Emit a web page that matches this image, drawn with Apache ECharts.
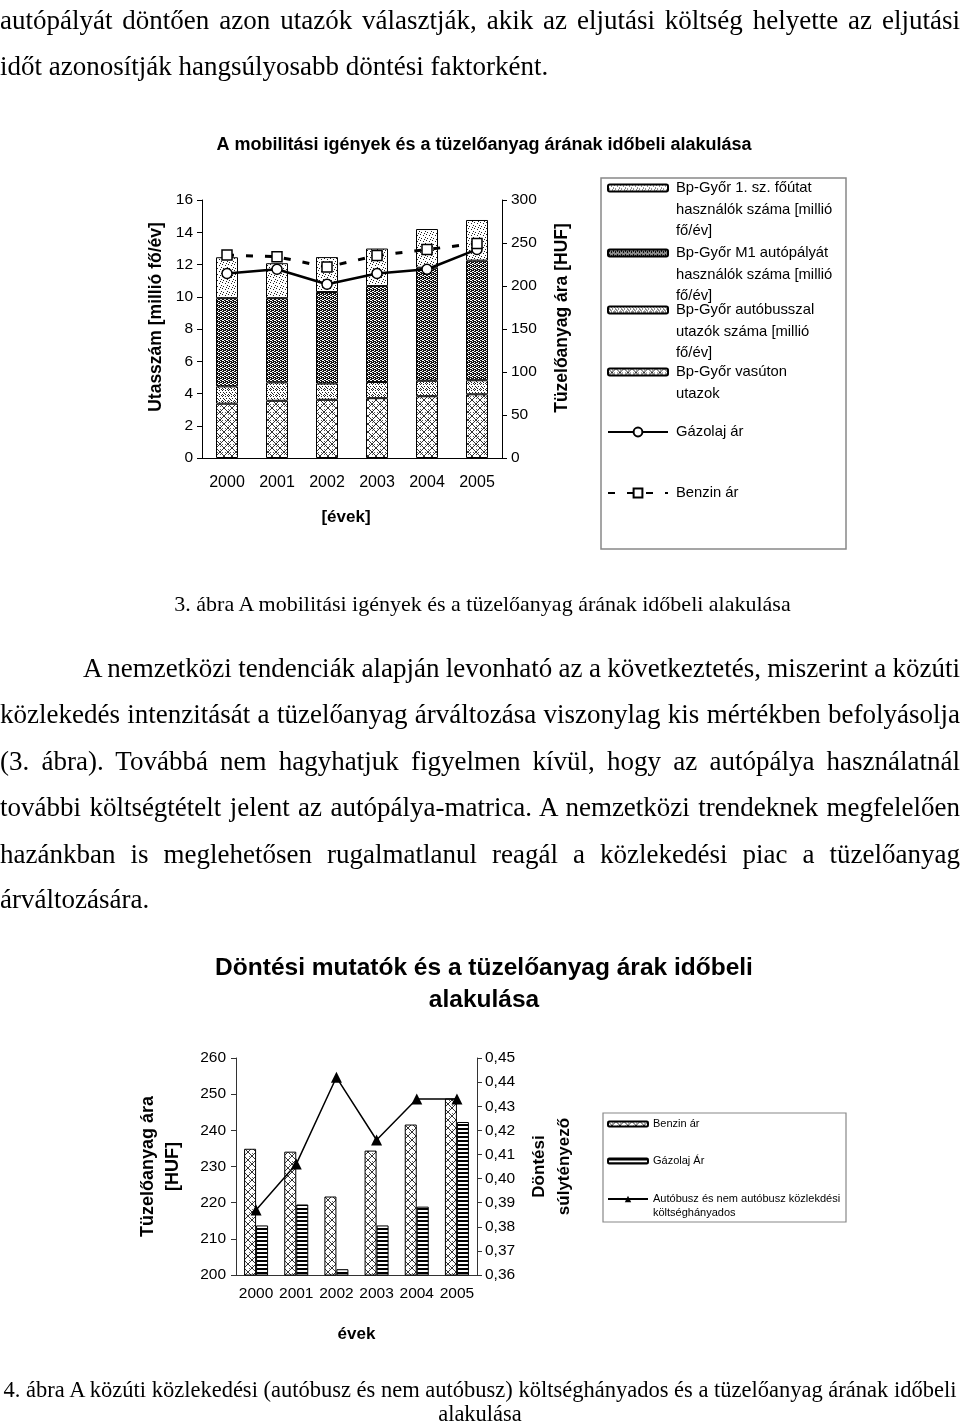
<!DOCTYPE html>
<html><head><meta charset="utf-8">
<script src="https://cdn.jsdelivr.net/npm/echarts@6/dist/echarts.min.js"></script>
<style>
html,body{margin:0;padding:0;background:#fff}
body{width:960px;height:1423px;position:relative;overflow:hidden}
#chart{position:absolute;left:0;top:0;width:960px;height:1423px}
.t{position:absolute;font-family:"Liberation Serif","Times New Roman",serif;font-size:27px;line-height:30px;color:#000;white-space:nowrap;word-spacing:-2px}
.j{left:0;width:960px;text-align:justify;text-align-last:justify}
.l{left:0;text-align:left;word-spacing:0}
.c{font-size:22px;line-height:26px;text-align:center;word-spacing:0}
.c4{font-size:22.5px;line-height:25px;text-align:center;left:0;width:960px;word-spacing:0}
</style></head>
<body>
<div id="chart"></div>
<div class="t j" style="top:5px">autópályát döntően azon utazók választják, akik az eljutási költség helyette az eljutási</div>
<div class="t l" style="top:51px">időt azonosítják hangsúlyosabb döntési faktorként.</div>
<div class="t c" style="top:591px;left:5px;width:955px">3. ábra A mobilitási igények és a tüzelőanyag árának időbeli alakulása</div>
<div class="t j" style="top:653px;padding-left:83px;width:877px">A nemzetközi tendenciák alapján levonható az a következtetés, miszerint a közúti</div>
<div class="t j" style="top:699px">közlekedés intenzitását a tüzelőanyag árváltozása viszonylag kis mértékben befolyásolja</div>
<div class="t j" style="top:746px">(3. ábra). Továbbá nem hagyhatjuk figyelmen kívül, hogy az autópálya használatnál</div>
<div class="t j" style="top:792px">további költségtételt jelent az autópálya-matrica. A nemzetközi trendeknek megfelelően</div>
<div class="t j" style="top:839px">hazánkban is meglehetősen rugalmatlanul reagál a közlekedési piac a tüzelőanyag</div>
<div class="t l" style="top:884px">árváltozására.</div>
<div class="t c4" style="top:1377px">4. ábra A közúti közlekedési (autóbusz és nem autóbusz) költséghányados és a tüzelőanyag árának időbeli</div>
<div class="t c4" style="top:1401px">alakulása</div>
<script>
// ---- data: chart 1 (3. ábra) ----
const years = ['2000','2001','2002','2003','2004','2005'];
const vasut   = [3.37, 3.55, 3.61, 3.71, 3.83, 3.95];
const busz    = [1.07, 1.14, 1.01, 1.00, 0.96, 0.87];
const m1      = [5.47, 5.22, 5.67, 5.95, 7.01, 7.42];
const foutvo  = [2.54, 2.17, 2.17, 2.33, 2.40, 2.52];
const gazolaj = [214.5, 219.5, 202, 214.5, 219.5, 242.5];
const benzin  = [236, 234, 222, 235.5, 242.5, 249.5];
// ---- data: chart 2 (4. ábra) ----
const benzin2   = [234.9, 234.1, 221.7, 234.4, 241.6, 248.8];
const gazolaj2  = [213.7, 219.5, 201.6, 213.7, 218.9, 242.3];
const hanyados  = [0.387, 0.406, 0.442, 0.416, 0.433, 0.433];
// ---- labels ----
const names1 = ['Bp-Győr 1. sz. főútat\nhasználók száma [millió\nfő/év]', 'Bp-Győr M1 autópályát\nhasználók száma [millió\nfő/év]', 'Bp-Győr autóbusszal\nutazók száma [millió\nfő/év]', 'Bp-Győr vasúton\nutazok', 'Gázolaj ár', 'Benzin ár'];
const names2 = ['Benzin ár ', 'Gázolaj Ár', 'Autóbusz és nem autóbusz közlekdési\nköltséghányados'];

function pat(w, h, draw) {
  const c = document.createElement('canvas'); c.width = w; c.height = h;
  const x = c.getContext('2d'); x.fillStyle = '#fff'; x.fillRect(0, 0, w, h); draw(x);
  return { image: c, repeat: 'repeat' };
}
function px(x, pts, col) { x.fillStyle = col || '#000'; pts.forEach(p => x.fillRect(p[0], p[1], 1, 1)); }
const pVasut = pat(8, 8, x => {
  x.strokeStyle = '#333'; x.lineWidth = 1; x.beginPath();
  x.moveTo(0, 0); x.lineTo(8, 8); x.moveTo(8, 0); x.lineTo(0, 8); x.stroke();
  px(x, [[4, 1], [1, 4], [6, 4], [4, 6]], '#555');
});
const pBusz = pat(6, 6, x => { px(x, [[0, 0], [3, 0], [1, 2], [4, 2], [2, 3], [0, 4], [3, 4], [5, 5], [1, 5]], '#222'); });
const pM1 = pat(4, 4, x => { px(x, [[0, 0], [1, 0], [2, 1], [3, 1], [0, 2], [1, 2], [2, 3], [3, 3], [1, 1], [3, 2]], '#111'); });
const pFout = pat(6, 6, x => { px(x, [[0, 0], [3, 1], [5, 3], [1, 4], [4, 5]], '#222'); });
const pBenzin2 = pat(8, 8, x => {
  x.strokeStyle = '#333'; x.lineWidth = 1; x.beginPath();
  x.moveTo(0, 0); x.lineTo(8, 8); x.moveTo(8, 0); x.lineTo(0, 8); x.stroke();
  px(x, [[4, 1], [1, 4]], '#666');
});
const pGazolaj2 = pat(4, 4, x => { x.fillStyle = '#000'; x.fillRect(0, 0, 4, 2); });

const FF = '"Liberation Sans", Arial, sans-serif';
const bStyle = p => ({ color: p, borderColor: '#000', borderWidth: 1 });

// one legend per entry; blank lines before the name keep the icon level with the first text line
function mkLegend(name, left, cy, nLines, lh, fs, iw, ih, padL) {
  const boxH = (2 * nLines - 1) * lh;
  const pre = '\n'.repeat(nLines - 1);
  return {
    data: [name], orient: 'vertical', left: left, top: cy - boxH / 2, padding: 0,
    itemWidth: iw, itemHeight: ih, itemGap: 0, selectedMode: false,
    formatter: n => pre + n,
    textStyle: { fontFamily: FF, fontSize: fs, lineHeight: lh, color: '#000', padding: [0, 0, 0, padL] }
  };
}

const axisLbl = (m, fs, extra) => Object.assign({ color: '#000', fontSize: fs, margin: m, fontFamily: FF }, extra || {});
const nameTS = (fs, lh, pad) => ({ color: '#000', fontSize: fs, fontWeight: 'bold', fontFamily: FF, lineHeight: lh, padding: pad || 0 });

const option = {
  animation: false,
  textStyle: { fontFamily: FF },
  title: [
    { text: 'A mobilitási igények és a tüzelőanyag árának időbeli alakulása', left: 484, top: 136, padding: 0, textAlign: 'center', textStyle: { fontSize: 18, fontWeight: 'bold', color: '#000', fontFamily: FF } },
    { text: 'Döntési mutatók és a tüzelőanyag árak időbeli\nalakulása', left: 484, top: 952, padding: 0, textAlign: 'center', textStyle: { fontSize: 24.5, lineHeight: 32, fontWeight: 'bold', color: '#000', fontFamily: FF } }
  ],
  grid: [
    { left: 202, top: 200, width: 300, height: 258, outerBoundsMode: 'none' },
    { left: 236, top: 1058, width: 241, height: 217, outerBoundsMode: 'none' }
  ],
  xAxis: [
    { type: 'category', gridIndex: 0, data: years, axisLine: { lineStyle: { color: '#000' } }, axisTick: { length: 5, lineStyle: { color: '#000' } },
      axisLabel: axisLbl(17, 16, { interval: 0 }), name: '[évek]', nameLocation: 'middle', nameGap: 51, nameTextStyle: nameTS(17, null, [0, 12, 0, 0]) },
    { type: 'category', gridIndex: 1, data: years, axisLine: { lineStyle: { color: '#333' } }, axisTick: { length: 5, lineStyle: { color: '#333' } },
      axisLabel: axisLbl(11, 15.5, { interval: 0 }), name: 'évek', nameLocation: 'middle', nameGap: 51, nameTextStyle: nameTS(17) }
  ],
  yAxis: [
    { type: 'value', gridIndex: 0, position: 'left', min: 0, max: 16, interval: 2, splitLine: { show: false },
      axisLine: { show: true, lineStyle: { color: '#000' } }, axisTick: { show: true, length: 5, lineStyle: { color: '#000' } },
      axisLabel: axisLbl(9, 15.5), name: 'Utasszám [millió fő/év]', nameLocation: 'middle', nameRotate: 90, nameGap: 37, nameTextStyle: nameTS(17.5, null, [0, 0, 0, 24]) },
    { type: 'value', gridIndex: 0, position: 'right', min: 0, max: 300, interval: 50, splitLine: { show: false },
      axisLine: { show: true, lineStyle: { color: '#000' } }, axisTick: { show: true, length: 5, lineStyle: { color: '#000' } },
      axisLabel: axisLbl(9, 15.5), name: 'Tüzelőanyag ára [HUF]', nameLocation: 'middle', nameRotate: 90, nameGap: 51, nameTextStyle: nameTS(17.5, null, [0, 0, 0, 22]) },
    { type: 'value', gridIndex: 1, position: 'left', min: 200, max: 260, interval: 10, splitLine: { show: false },
      axisLine: { show: true, lineStyle: { color: '#333' } }, axisTick: { show: true, length: 5, lineStyle: { color: '#333' } },
      axisLabel: axisLbl(10, 15.5), name: 'Tüzelőanyag ára\n[HUF]', nameLocation: 'middle', nameRotate: 90, nameGap: 50, nameTextStyle: nameTS(18, 25) },
    { type: 'value', gridIndex: 1, position: 'right', min: 0.36, max: 0.45, interval: 0.01, splitLine: { show: false },
      axisLine: { show: true, lineStyle: { color: '#333' } }, axisTick: { show: true, length: 5, lineStyle: { color: '#333' } },
      axisLabel: axisLbl(8, 15.5, { formatter: v => v.toFixed(2).replace('.', ',') }), name: 'Döntési\nsúlytényező', nameLocation: 'middle', nameRotate: 90, nameGap: 50, nameTextStyle: nameTS(17, 25) }
  ],
  legend: [
    mkLegend(names1[0], 607, 188, 3, 21.7, 14.8, 60, 7, 3),
    mkLegend(names1[1], 607, 253, 3, 21.7, 14.8, 60, 7, 3),
    mkLegend(names1[2], 607, 310, 3, 21.7, 14.8, 60, 7, 3),
    mkLegend(names1[3], 607, 372, 2, 21.7, 14.8, 60, 7, 3),
    mkLegend(names1[4], 607, 432, 1, 21.7, 14.8, 60, 11, 3),
    mkLegend(names1[5], 607, 493, 1, 21.7, 14.8, 60, 11, 3),
    mkLegend(names2[0], 607, 1124, 1, 14, 11, 40, 5, 0),
    mkLegend(names2[1], 607, 1161, 1, 14, 11, 40, 5, 0),
    mkLegend(names2[2], 607, 1199, 2, 14, 11, 40, 8, 0)
  ],
  graphic: [
    { type: 'rect', shape: { x: 601, y: 178, width: 245, height: 371 }, style: { fill: 'none', stroke: '#888', lineWidth: 1.5 }, silent: true },
    { type: 'rect', shape: { x: 603, y: 1113, width: 243, height: 109 }, style: { fill: 'none', stroke: '#888', lineWidth: 1.2 }, silent: true }
  ],
  series: [
    { name: names1[3], type: 'bar', stack: 's1', xAxisIndex: 0, yAxisIndex: 0, barWidth: 22, data: vasut, itemStyle: bStyle(pVasut) },
    { name: names1[2], type: 'bar', stack: 's1', xAxisIndex: 0, yAxisIndex: 0, barWidth: 22, data: busz, itemStyle: bStyle(pBusz) },
    { name: names1[1], type: 'bar', stack: 's1', xAxisIndex: 0, yAxisIndex: 0, barWidth: 22, data: m1, itemStyle: bStyle(pM1) },
    { name: names1[0], type: 'bar', stack: 's1', xAxisIndex: 0, yAxisIndex: 0, barWidth: 22, data: foutvo, itemStyle: bStyle(pFout) },
    { name: names1[4], type: 'line', xAxisIndex: 0, yAxisIndex: 1, data: gazolaj, symbol: 'circle', symbolSize: 10, z: 5,
      itemStyle: { color: '#fff', borderColor: '#000', borderWidth: 1.5 }, lineStyle: { color: '#000', width: 2.5 } },
    { name: names1[5], type: 'line', xAxisIndex: 0, yAxisIndex: 1, data: benzin, symbol: 'rect', symbolSize: 10, z: 5,
      itemStyle: { color: '#fff', borderColor: '#000', borderWidth: 1.5 }, lineStyle: { color: '#000', width: 3, type: [7, 12] } },
    { name: names2[0], type: 'bar', xAxisIndex: 1, yAxisIndex: 2, barWidth: 12, barGap: '0%', data: benzin2, itemStyle: bStyle(pBenzin2) },
    { name: names2[1], type: 'bar', xAxisIndex: 1, yAxisIndex: 2, barWidth: 12, barGap: '0%', data: gazolaj2, itemStyle: bStyle(pGazolaj2) },
    { name: names2[2], type: 'line', xAxisIndex: 1, yAxisIndex: 3, data: hanyados, symbol: 'triangle', symbolSize: 11, z: 5,
      itemStyle: { color: '#000' }, lineStyle: { color: '#000', width: 1.5 } }
  ]
};
const chart = echarts.init(document.getElementById('chart'), null, { renderer: 'canvas' });
chart.setOption(option);
</script>
</body></html>
